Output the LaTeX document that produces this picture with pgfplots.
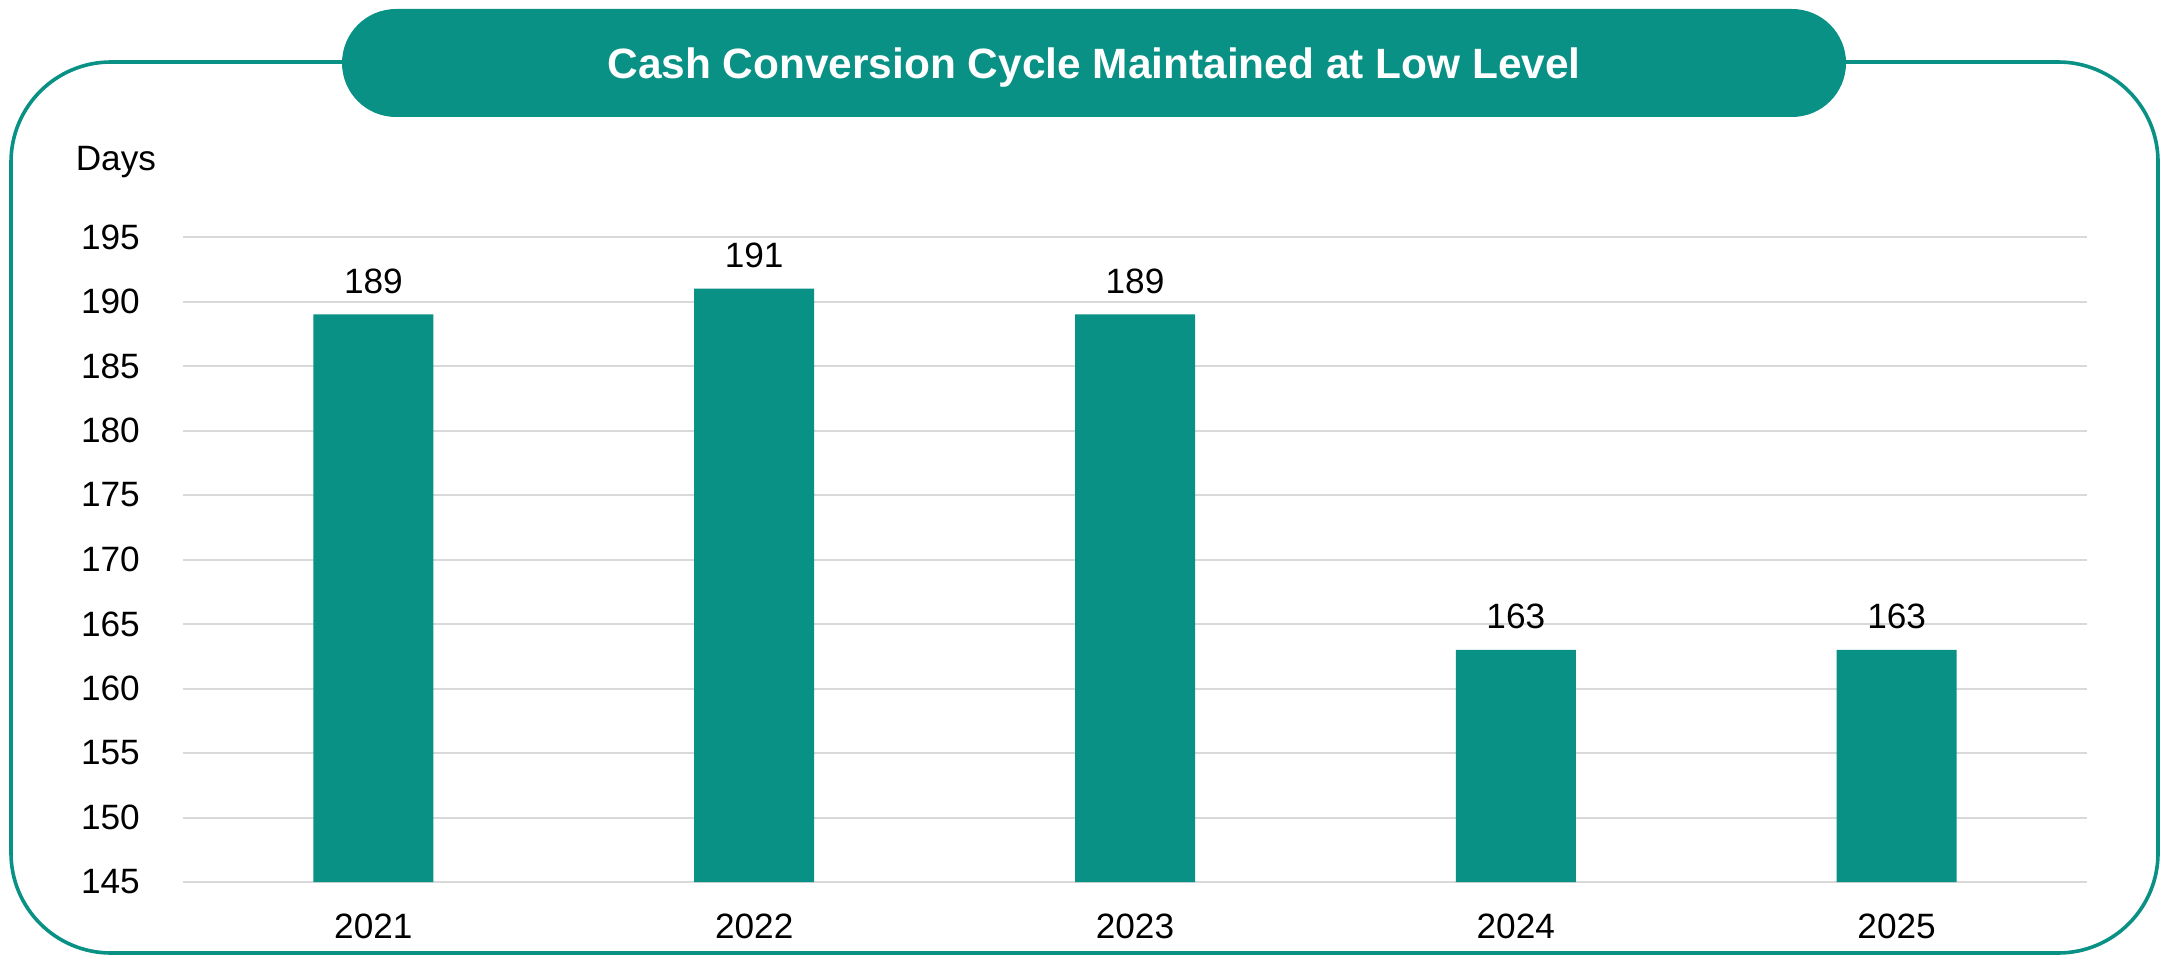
\documentclass[border=0pt]{standalone}
\usepackage{pgfplots}
\pgfplotsset{compat=1.18}
\usepackage{fontspec}
\setmainfont{Liberation Sans}
\definecolor{teal1}{RGB}{8,145,132}
\definecolor{gridgray}{RGB}{217,217,217}
\begin{document}
\begin{tikzpicture}
\begin{scope}[x=0.25pt,y=0.25pt]
\useasboundingbox (0,0) rectangle (2161,955);
\draw[teal1, line width=0.9pt, rounded corners=25pt] (11,2) rectangle (2158,893);
\fill[teal1, rounded corners=13.5pt] (342,838) rectangle (1846,946);
\node[anchor=base, text=white, font=\fontsize{10.6}{12}\selectfont\bfseries, inner sep=0pt] at (1094,876) {Cash Conversion Cycle Maintained at Low Level};
\node[anchor=base west, inner sep=0pt, font=\fontsize{8.8}{10}\selectfont] at (75,784) {Days};
\end{scope}
\begin{axis}[
  at={(45.75pt,18.25pt)}, anchor=south west,
  scale only axis, width=476pt, height=161.25pt,
  xmin=-0.5, xmax=4.5, ymin=145, ymax=195,
  ytick={145,150,...,195},
  xtick={0,1,2,3,4},
  xticklabels={2021,2022,2023,2024,2025},
  ybar, bar width=30pt,
  ymajorgrids, grid style={gridgray, line width=0.5pt},
  axis line style={draw=none}, major tick length=0pt,
  tick label style={font=\fontsize{8.8}{10}\selectfont},
  /pgf/number format/assume math mode=true,
  yticklabel style={inner sep=0pt, anchor=east, xshift=-10.6pt},
  xticklabel style={inner sep=0pt, anchor=north, yshift=-7.75pt},
  nodes near coords,
  every node near coord/.append style={font=\fontsize{8.8}{10}\selectfont, inner sep=0pt, anchor=south, yshift=5pt, text=black},
]
\addplot[fill=teal1, draw=none] coordinates {(0,189) (1,191) (2,189) (3,163) (4,163)};
\end{axis}
\end{tikzpicture}
\end{document}
